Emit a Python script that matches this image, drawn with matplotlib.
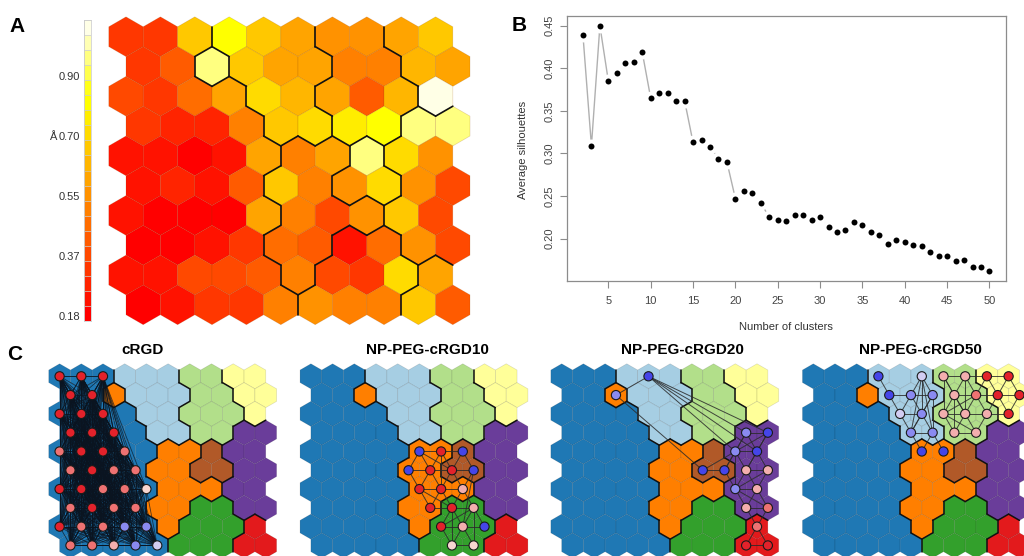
import numpy as np
import matplotlib
matplotlib.use("Agg")
import matplotlib.pyplot as plt
from matplotlib.collections import PolyCollection, LineCollection
from itertools import combinations
import colorsys

plt.rcParams['font.family'] = ['Liberation Sans', 'DejaVu Sans']

# ---------------------------------------------------------------- data
# Panel A: mean RMSD (Å) of every SOM neuron, 10 x 10 map, row 0 on top
rmsd = [
    [0.32, 0.32, 0.66, 0.80, 0.66, 0.59, 0.55, 0.55, 0.59, 0.66],
    [0.32, 0.42, 0.95, 0.66, 0.59, 0.59, 0.50, 0.50, 0.63, 0.59],
    [0.37, 0.32, 0.46, 0.59, 0.70, 0.63, 0.59, 0.42, 0.63, 1.05],
    [0.32, 0.28, 0.28, 0.50, 0.66, 0.70, 0.75, 0.80, 0.95, 0.95],
    [0.23, 0.23, 0.18, 0.23, 0.59, 0.50, 0.59, 0.95, 0.70, 0.55],
    [0.23, 0.28, 0.23, 0.42, 0.66, 0.50, 0.55, 0.70, 0.55, 0.37],
    [0.23, 0.18, 0.18, 0.18, 0.59, 0.50, 0.37, 0.55, 0.66, 0.37],
    [0.18, 0.18, 0.23, 0.32, 0.46, 0.42, 0.23, 0.46, 0.55, 0.37],
    [0.23, 0.23, 0.37, 0.37, 0.42, 0.50, 0.37, 0.32, 0.70, 0.59],
    [0.18, 0.23, 0.32, 0.32, 0.50, 0.55, 0.50, 0.50, 0.66, 0.42],
]
scale_ticks = [0.18, 0.37, 0.55, 0.70, 0.90]
scale_tick_levels = [0, 4, 8, 12, 16]
scale_top = (1.05, 19)

# cluster of every neuron (S = isolated neuron of the orange cluster)
clusters = [
    "DDDLLLGGYY",
    "DDSLLLGGYY",
    "DDDDLLGGGY",
    "DDDDLLGGPP",
    "DDDDDOOBPP",
    "DDDDOOBBPP",
    "DDDDDOOOPP",
    "DDDDOOggPP",
    "DDDDDOgggR",
    "DDDDDgggRR",
]
cluster_colors = {'D': '#1f78b4', 'L': '#a6cee3', 'G': '#b2df8a', 'Y': '#ffff99',
                  'P': '#6a3d9a', 'O': '#ff7f00', 'S': '#ff7f00', 'B': '#b15928',
                  'g': '#33a02c', 'R': '#e31a1c'}

# Panel B: average silhouette width versus number of clusters
n_clusters = list(range(2, 51))
silhouette = [0.439, 0.309, 0.450, 0.385, 0.394, 0.406, 0.408, 0.419, 0.365, 0.371,
              0.371, 0.362, 0.362, 0.313, 0.316, 0.308, 0.294, 0.290, 0.247, 0.256,
              0.254, 0.242, 0.225, 0.222, 0.221, 0.228, 0.228, 0.222, 0.225, 0.214,
              0.208, 0.210, 0.219, 0.216, 0.208, 0.204, 0.194, 0.198, 0.196, 0.193,
              0.191, 0.184, 0.179, 0.180, 0.174, 0.175, 0.167, 0.166, 0.162]

# Panel C: trajectory frames mapped on the SOM (row, col, state) and their links
site_fill = {'red': '#e3222b', 'salmon': '#ee7272', 'pink': '#f3aeae', 'blush': '#f7d6d0',
             'blue': '#4545e8', 'violet': '#8a8af0', 'mist': '#d2cdf2'}

crgd_sites = [
    (0, 0, 'red'), (0, 1, 'red'), (0, 2, 'red'),
    (1, 0, 'red'), (1, 1, 'red'),
    (2, 0, 'red'), (2, 1, 'red'), (2, 2, 'red'),
    (3, 0, 'red'), (3, 1, 'red'), (3, 2, 'red'),
    (4, 0, 'salmon'), (4, 1, 'red'), (4, 2, 'red'), (4, 3, 'salmon'),
    (5, 0, 'salmon'), (5, 1, 'red'), (5, 2, 'salmon'), (5, 3, 'salmon'),
    (6, 0, 'red'), (6, 1, 'red'), (6, 2, 'salmon'), (6, 3, 'salmon'), (6, 4, 'blush'),
    (7, 0, 'salmon'), (7, 1, 'red'), (7, 2, 'salmon'), (7, 3, 'salmon'),
    (8, 0, 'red'), (8, 1, 'salmon'), (8, 2, 'salmon'), (8, 3, 'violet'), (8, 4, 'violet'),
    (9, 0, 'salmon'), (9, 1, 'salmon'), (9, 2, 'pink'), (9, 3, 'violet'), (9, 4, 'mist'),
]
# every cRGD frame is linked to every other one
crgd_links = list(combinations(range(len(crgd_sites)), 2))

p10_sites = [
    (4, 5, 'blue'), (4, 6, 'red'), (4, 7, 'blue'),
    (5, 4, 'blue'), (5, 5, 'red'), (5, 6, 'red'), (5, 7, 'blue'),
    (6, 5, 'red'), (6, 6, 'red'), (6, 7, 'pink'),
    (7, 5, 'red'), (7, 6, 'red'), (7, 7, 'pink'),
    (8, 6, 'red'), (8, 7, 'pink'), (8, 8, 'blue'),
    (9, 6, 'blush'), (9, 7, 'blush'),
]
p10_links = [(0, 1), (0, 3), (0, 4), (0, 5), (1, 4), (1, 5), (1, 2), (3, 4), (3, 7), (4, 5),
             (4, 7), (4, 8), (1, 8), (2, 5), (2, 6), (5, 6), (5, 8), (5, 9), (6, 9), (6, 14),
             (7, 8), (7, 10), (8, 9), (8, 10), (8, 11), (9, 11), (9, 12), (10, 11), (11, 12),
             (11, 13), (11, 14), (12, 13), (12, 14), (12, 15), (13, 14), (14, 15), (13, 16),
             (14, 16), (14, 17), (16, 17), (12, 17), (11, 16), (7, 11)]

p20_sites = [
    (0, 4, 'blue'), (1, 2, 'violet'),
    (3, 8, 'violet'), (3, 9, 'blue'), (4, 8, 'violet'), (4, 9, 'blue'),
    (5, 6, 'blue'), (5, 7, 'blue'), (5, 8, 'pink'), (5, 9, 'pink'),
    (6, 8, 'violet'), (6, 9, 'pink'), (7, 8, 'pink'), (7, 9, 'salmon'),
    (8, 9, 'salmon'), (9, 8, 'red'), (9, 9, 'red'),
]
p20_links = [(0, 1), (0, 2), (0, 3), (0, 4), (0, 5), (1, 6), (2, 3), (2, 4), (2, 5), (3, 4),
             (3, 5), (4, 5), (4, 8), (5, 8), (5, 9), (4, 10), (2, 7), (6, 7), (6, 4), (7, 4),
             (7, 10), (8, 9), (8, 10), (8, 11), (9, 11), (10, 11), (10, 12), (10, 13),
             (11, 12), (11, 13), (12, 13), (9, 10), (13, 14), (12, 14), (14, 15), (14, 16),
             (15, 16), (3, 8)]

p50_sites = [
    (0, 3, 'blue'), (0, 5, 'mist'), (0, 6, 'pink'), (0, 7, 'pink'), (0, 8, 'red'), (0, 9, 'red'),
    (1, 3, 'blue'), (1, 4, 'violet'), (1, 5, 'violet'), (1, 6, 'pink'), (1, 7, 'salmon'),
    (1, 8, 'red'), (1, 9, 'red'),
    (2, 4, 'mist'), (2, 5, 'violet'), (2, 6, 'pink'), (2, 7, 'pink'), (2, 8, 'pink'), (2, 9, 'red'),
    (3, 4, 'violet'), (3, 5, 'violet'), (3, 6, 'pink'), (3, 7, 'pink'),
    (4, 5, 'blue'), (4, 6, 'blue'),
]
p50_links = [(0, 6), (6, 13), (6, 7), (1, 7), (1, 8), (1, 14), (1, 19), (1, 20), (7, 8),
             (7, 13), (7, 14), (8, 14), (13, 14), (13, 19), (14, 19), (14, 20), (19, 20),
             (8, 20), (19, 23), (20, 24), (20, 23), (8, 19),
             (2, 3), (2, 9), (3, 9), (3, 10), (9, 10), (9, 15), (9, 16), (10, 16), (15, 16),
             (15, 21), (16, 22), (21, 22), (15, 22), (16, 21), (10, 17), (16, 17), (17, 22),
             (2, 15), (3, 16), (9, 21), (10, 15), (2, 16),
             (4, 5), (4, 11), (5, 11), (11, 12), (11, 18), (12, 18), (5, 12), (10, 11),
             (17, 11), (17, 18), (3, 4), (4, 10)]

c_titles = ['cRGD', 'NP-PEG-cRGD10', 'NP-PEG-cRGD20', 'NP-PEG-cRGD50']
c_networks = [(crgd_sites, crgd_links), (p10_sites, p10_links),
              (p20_sites, p20_links), (p50_sites, p50_links)]

# ---------------------------------------------------------------- helpers
W, H = 1024, 556
fig = plt.figure(figsize=(W / 100, H / 100), dpi=100)


def axes_px(x, y, w, h):
    return fig.add_axes([x / W, 1 - (y + h) / H, w / W, h / H])


NROW, NCOL = 10, 10
HROW = np.sqrt(3) / 2
RAD = 1 / np.sqrt(3)


def center(r, c):
    return c + 0.5 * (r % 2), -r * HROW


def hex_verts(x, y):
    a = np.deg2rad(np.arange(30, 390, 60))
    return np.column_stack([x + RAD * np.cos(a), y + RAD * np.sin(a)])


def boundary_segments(labels):
    segs = []
    for r in range(NROW):
        for c in range(NCOL):
            x, y = center(r, c)
            for a in range(0, 360, 60):
                t = np.deg2rad(a)
                nx, ny = x + np.cos(t), y + np.sin(t)
                rr = int(round(-ny / HROW))
                if rr < 0 or rr >= NROW:
                    continue
                cc = int(round(nx - 0.5 * (rr % 2)))
                if cc < 0 or cc >= NCOL:
                    continue
                if labels[rr][cc] != labels[r][c] and (rr, cc) > (r, c):
                    t1, t2 = np.deg2rad(a - 30), np.deg2rad(a + 30)
                    segs.append([(x + RAD * np.cos(t1), y + RAD * np.sin(t1)),
                                 (x + RAD * np.cos(t2), y + RAD * np.sin(t2))])
    return segs


def som_axes(x0, y0, s):
    ax = axes_px(x0 - 0.6 * s, y0 - 0.65 * s, 10.7 * s, (9 * HROW + 1.3) * s)
    ax.set_xlim(-0.6, 10.1)
    ax.set_ylim(-9 * HROW - 0.65, 0.65)
    ax.axis('off')
    return ax


def heat_colors(n=20):
    j = n // 4
    i = n - j
    cols = [colorsys.hsv_to_rgb(h, 1, 1) for h in np.linspace(0, 1 / 6, i)]
    cols += [colorsys.hsv_to_rgb(1 / 6, s, 1) for s in np.linspace(1 - 1 / (2 * j), 1 / (2 * j), j)]
    return cols


cells = [(r, c) for r in range(NROW) for c in range(NCOL)]
polys = [hex_verts(*center(r, c)) for r, c in cells]
bsegs = boundary_segments(clusters)

# ---------------------------------------------------------------- panel A
heat = heat_colors(20)
lv_vals = scale_ticks + [scale_top[0]]
lv_idx = scale_tick_levels + [scale_top[1]]
levels = [int(round(np.interp(rmsd[r][c], lv_vals, lv_idx))) for r, c in cells]

axA = som_axes(126, 36.7, 34.4)
axA.add_collection(PolyCollection(polys, facecolors=[heat[l] for l in levels],
                                  edgecolors=(0.55, 0.25, 0.0, 0.22), linewidths=0.5))
axA.add_collection(LineCollection(bsegs, colors='#111111', linewidths=1.2,
                                  capstyle='round'))

# colour key
axK = axes_px(83.5, 20, 7.5, 301)
for i, col in enumerate(heat):
    axK.bar(0.5, 1, bottom=i, width=1, color=col, edgecolor='#c8c8c8', linewidth=0.4)
axK.set_xlim(0, 1)
axK.set_ylim(0, len(heat))
axK.set_xticks([])
axK.set_yticks([l + 0.3 for l in scale_tick_levels])
axK.set_yticklabels([f"{v:.2f}" for v in scale_ticks])
axK.tick_params(axis='y', length=0, pad=2.5, labelsize=8, labelcolor='#333333')
for sp in axK.spines.values():
    sp.set_color('#c8c8c8')
    sp.set_linewidth(0.5)
fig.text(53 / W, 1 - 137 / H, 'Å', ha='center', va='center', fontsize=8, color='#333333')

# ---------------------------------------------------------------- panel B
axB = axes_px(566.7, 16, 439, 264.7)
axB.plot(n_clusters, silhouette, '-', color='#b0b0b0', lw=1.0, zorder=1)
axB.plot(n_clusters, silhouette, 'o', ms=10, color='white', mec='none', zorder=2)
axB.plot(n_clusters, silhouette, 'o', ms=4.3, color='black', mec='none', zorder=3)
xr = max(n_clusters) - min(n_clusters)
yr = max(silhouette) - min(silhouette)
axB.set_xlim(min(n_clusters) - 0.04 * xr, max(n_clusters) + 0.04 * xr)
axB.set_ylim(min(silhouette) - 0.04 * yr, max(silhouette) + 0.04 * yr)
axB.set_xticks(range(5, 51, 5))
axB.set_yticks([0.20, 0.25, 0.30, 0.35, 0.40, 0.45])
axB.set_yticklabels(['0.20', '0.25', '0.30', '0.35', '0.40', '0.45'])
axB.tick_params(direction='out', length=5, width=0.8, color='#8c8c8c',
                labelsize=8, labelcolor='#444444')
axB.tick_params(axis='x', pad=6)
axB.tick_params(axis='y', pad=4)
for lab in axB.get_yticklabels():
    lab.set_rotation(90)
    lab.set_va('center')
for sp in axB.spines.values():
    sp.set_color('#8c8c8c')
    sp.set_linewidth(0.9)
fig.text(786 / W, 1 - 327 / H, 'Number of clusters', ha='center', va='center',
         fontsize=8, color='#333333')
fig.text(522.5 / W, 1 - 150 / H, 'Average silhouettes', ha='center', va='center',
         rotation=90, fontsize=8, color='#333333')

# ---------------------------------------------------------------- panel C
c_x0 = [59.6, 310.9, 561.7, 813.3]
c_title_x = [142.5, 427.5, 682.5, 920.5]
cluster_fill = [cluster_colors[clusters[r][c]] for r, c in cells]
for k, (sites, links) in enumerate(c_networks):
    ax = som_axes(c_x0[k], 376.3, 21.7)
    ax.add_collection(PolyCollection(polys, facecolors=cluster_fill,
                                     edgecolors=(0, 0, 0, 0.13), linewidths=0.5))
    ax.add_collection(LineCollection(bsegs, colors='#111111', linewidths=1.1,
                                     capstyle='round', zorder=3))
    pts = [center(r, c) for r, c, _ in sites]
    segs = [[pts[a], pts[b]] for a, b in links]
    if k == 0:
        ax.add_collection(LineCollection(segs, colors='#0a1420', linewidths=0.6,
                                         alpha=0.7, zorder=4))
    else:
        ax.add_collection(LineCollection(segs, colors='#2a2a2a', linewidths=0.7,
                                         alpha=0.85, zorder=4))
    xs = [p[0] for p in pts]
    ys = [p[1] for p in pts]
    ax.scatter(xs, ys, s=44, c=[site_fill[s[2]] for s in sites],
               edgecolors='#1a1a1a', linewidths=0.8, zorder=5)
    fig.text(c_title_x[k] / W, 1 - 350 / H, c_titles[k], ha='center', va='center',
             fontsize=11, fontweight='bold')

# ---------------------------------------------------------------- panel letters
for lab, x, y in [('A', 17, 26), ('B', 519.5, 25.5), ('C', 14.5, 354)]:
    fig.text(x / W, 1 - y / H, lab, ha='center', va='center', fontsize=15,
             fontweight='bold')

fig.savefig('out.png', dpi=100)
